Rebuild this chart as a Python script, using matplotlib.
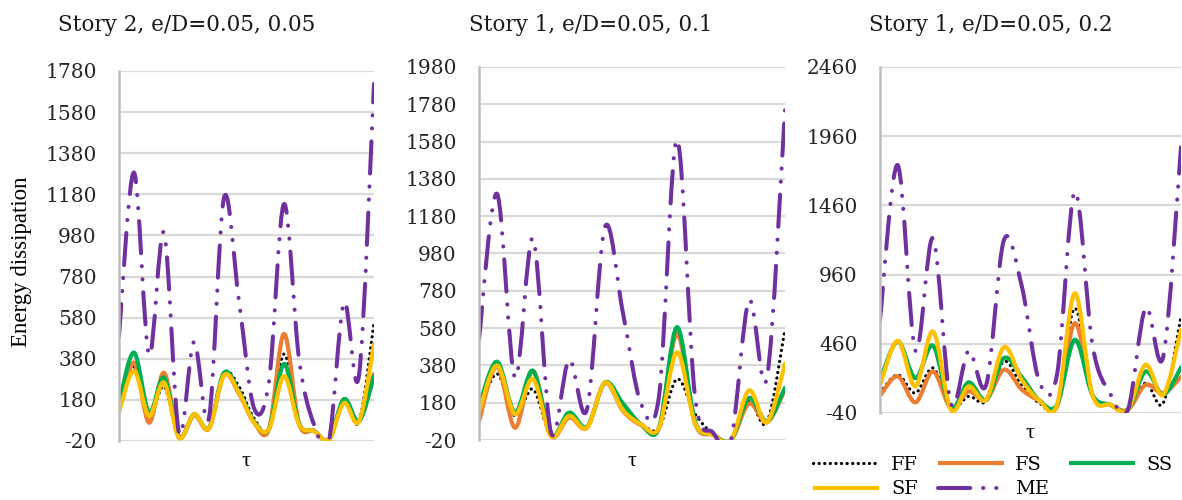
import numpy as np
import matplotlib
matplotlib.use("Agg")
import matplotlib.pyplot as plt
from matplotlib.path import Path
from matplotlib.patches import PathPatch
from matplotlib.lines import Line2D

plt.rcParams["axes.unicode_minus"] = False

# values, 18 time steps per series
steps = list(range(18))
series_names = ["FF", "FS", "SS", "SF", "ME"]

titles = ["Story 2, e/D=0.05, 0.05", "Story 1, e/D=0.05, 0.1", "Story 1, e/D=0.05, 0.2"]

ff1 = [140, 340, 100, 245, 0, 105, 42, 310, 245, 90, 40, 403, 70, 30, -12, 175, 75, 556]
fs1 = [130, 361, 69, 312, 0, 105, 40, 300, 210, 70, 38, 501, 65, 30, -12, 172, 75, 306]
ss1 = [160, 410, 118, 288, 0, 110, 45, 312, 220, 75, 40, 355, 65, 29, -14, 184, 77, 296]
sf1 = [120, 321, 102, 264, -5, 110, 42, 300, 215, 70, 38, 296, 60, 28, -14, 165, 75, 452]
me1 = [490, 1286, 400, 993, 20, 462, 93, 1164, 660, 140, 270, 1133, 380, 60, -15, 653, 300, 1717]

ff2 = [125, 335, 109, 253, 2, 105, 46, 285, 140, 65, 45, 307, 120, 15, -20, 185, 75, 575]
fs2 = [80, 375, 46, 351, 2, 100, 46, 285, 135, 60, 45, 549, 70, 8, -20, 175, 75, 250]
ss2 = [160, 400, 127, 351, 4, 127, 50, 289, 175, 65, 45, 585, 80, 10, -20, 205, 80, 260]
sf2 = [130, 380, 118, 306, 0, 109, 46, 289, 140, 65, 45, 450, 70, 8, -20, 246, 75, 390]
me2 = [520, 1300, 315, 1060, 20, 410, 145, 1123, 660, 175, 215, 1590, 215, 20, -20, 728, 315, 1750]

ff3 = [105, 236, 104, 285, -4, 80, 44, 333, 160, 32, 20, 717, 85, 20, -16, 176, 32, 660]
fs3 = [85, 225, 37, 260, -4, 116, 56, 273, 130, 50, 8, 609, 90, 20, -16, 164, 104, 220]
ss3 = [195, 477, 212, 446, -4, 181, 56, 357, 220, 50, 20, 489, 90, 20, -16, 260, 92, 290]
sf3 = [160, 482, 152, 549, -16, 152, 56, 436, 200, 50, 20, 825, 90, 20, -16, 309, 92, 560]
me3 = [633, 1751, 410, 1222, 32, 410, 164, 1210, 880, 185, 240, 1559, 450, 100, -16, 720, 369, 1880]

yticks1 = [-20, 180, 380, 580, 780, 980, 1180, 1380, 1580, 1780]
yticks2 = [-20, 180, 380, 580, 780, 980, 1180, 1380, 1580, 1780, 1980]
yticks3 = [-40, 460, 960, 1460, 1960, 2460]

panels = [
    (titles[0], [ff1, fs1, ss1, sf1, me1], yticks1),
    (titles[1], [ff2, fs2, ss2, sf2, me2], yticks2),
    (titles[2], [ff3, fs3, ss3, sf3, me3], yticks3),
]

styles = {
    "FF": dict(color="black", lw=2.3, ls=(0, (0.05, 1.7))),
    "FS": dict(color="#ED7D31", lw=3.0, ls="-"),
    "SS": dict(color="#00B050", lw=3.0, ls="-"),
    "SF": dict(color="#FFC000", lw=3.0, ls="-"),
    "ME": dict(color="#7030A0", lw=2.9, ls=(0, (8, 3.2, 0.05, 3.2, 0.05, 3.2))),
}

W, H = 1182, 500
# pixel boxes: left, top, right, bottom
boxes = [(119, 71, 374, 441), (479, 67, 785, 440), (880, 67, 1181, 413)]
title_pos = [(187, 25), (591, 25), (991, 25)]
tau_pos = [(246, 461), (632, 461), (1030, 433)]

SERIF = "DejaVu Serif"


def smooth_path(x, y):
    # excel style smoothing: cubic bezier through the points
    pts = np.column_stack([x, y]).astype(float)
    n = len(pts)
    verts = [pts[0]]
    codes = [Path.MOVETO]
    for i in range(n - 1):
        p0 = pts[max(i - 1, 0)]
        p1 = pts[i]
        p2 = pts[i + 1]
        p3 = pts[min(i + 2, n - 1)]
        verts += [p1 + (p2 - p0) / 6, p2 - (p3 - p1) / 6, p2]
        codes += [Path.CURVE4] * 3
    return Path(verts, codes)


fig = plt.figure(figsize=(W / 100, H / 100), dpi=100)

for k, (title, data, yticks) in enumerate(panels):
    l, t, r, b = boxes[k]
    ax = fig.add_axes([l / W, 1 - b / H, (r - l) / W, (b - t) / H])
    ax.set_xlim(0, 17)
    ax.set_ylim(yticks[0], yticks[-1])
    ax.set_yticks(yticks)
    ax.set_xticks([])
    ax.grid(axis="y", color="#D9D9D9", lw=1.6)
    ax.set_axisbelow(True)
    for s in ["top", "right", "bottom"]:
        ax.spines[s].set_visible(False)
    ax.spines["left"].set_color("#BFBFBF")
    ax.spines["left"].set_linewidth(1.8)
    ax.tick_params(axis="y", length=0, pad=16, labelsize=14.5, labelcolor="#262626")
    for lab in ax.get_yticklabels():
        lab.set_fontfamily(SERIF)

    for name, vals in zip(series_names, data):
        st = styles[name]
        patch = PathPatch(smooth_path(steps, vals), facecolor="none",
                          edgecolor=st["color"], lw=st["lw"], linestyle=st["ls"],
                          capstyle="round", joinstyle="round")
        ax.add_patch(patch)

    fig.text(title_pos[k][0] / W, 1 - title_pos[k][1] / H, title,
             ha="center", va="center", fontsize=15.5, family=SERIF, color="#1a1a1a")
    fig.text(tau_pos[k][0] / W, 1 - tau_pos[k][1] / H, "τ",
             ha="center", va="center", fontsize=16, family="Liberation Serif")

fig.text(22 / W, 1 - 262 / H, "Energy dissipation", rotation=90,
         ha="center", va="center", fontsize=16.5, family="Liberation Serif")

# legend filled row by row: FF FS SS / SF ME
handles = {}
for name in series_names:
    st = styles[name]
    handles[name] = Line2D([], [], color=st["color"], lw=st["lw"], ls=st["ls"],
                           dash_capstyle="round", solid_capstyle="butt")
order = ["FF", "SF", "FS", "ME", "SS"]
fig.legend([handles[n] for n in order], order, loc="center", ncol=3,
           bbox_to_anchor=(993 / W, 1 - 477 / H), frameon=False,
           prop={"family": SERIF, "size": 14}, handlelength=3.4,
           handletextpad=0.6, columnspacing=1.0, labelspacing=0.35,
           borderpad=0, borderaxespad=0)

fig.savefig("out.png", dpi=100)
